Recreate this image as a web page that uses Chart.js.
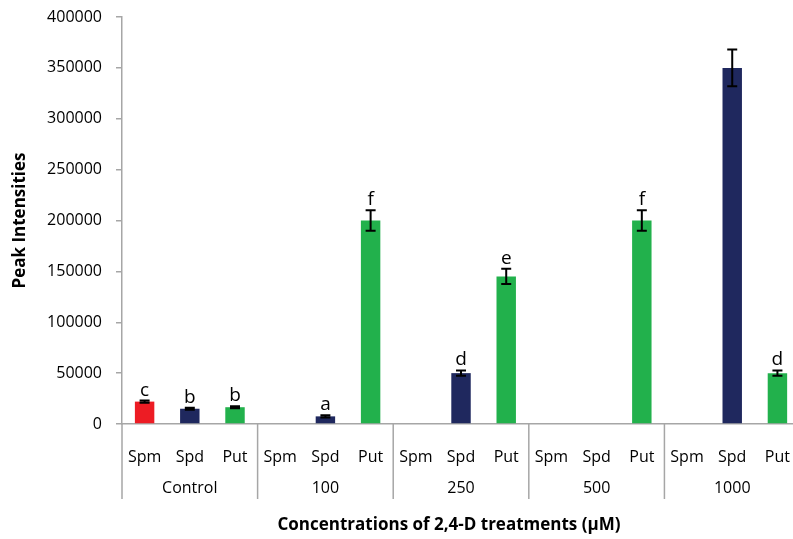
<!DOCTYPE html>
<html>
<head>
<meta charset="utf-8">
<script src="https://cdn.jsdelivr.net/npm/chart.js@4.4.1/dist/chart.umd.min.js"></script>
<style>
body { margin: 0; overflow: hidden; background: #fff; }
#wrap { width: 806px; height: 539px; position: relative; }
</style>
</head>
<body>
<div id="wrap"><canvas id="myChart"></canvas></div>
<script>
const ctx = document.getElementById('myChart');

const polyamines = ['Spm', 'Spd', 'Put']
const treatments = ['Control', '100', '250', '500', '1000']
const peakValues = [22000, 15000, 16500, null, 7500, 200000, null, 50000, 145000, null, null, 200000, null, 350000, 50000]
const errValues = [1000, 1000, 1000, 0, 1000, 10000, 0, 2500, 7500, 0, 0, 10000, 0, 18000, 2500]
const letters = ['c', 'b', 'b', '', 'a', 'f', '', 'd', 'e', '', '', 'f', '', '', 'd']
const yTicks = [0, 50000, 100000, 150000, 200000, 250000, 300000, 350000, 400000]

const labels = []
treatments.forEach(t => polyamines.forEach(p => labels.push(p)))

const colorOf = {Spm: '#ed1c24', Spd: '#1f285e', Put: '#22b14c'}
const barColors = labels.map(l => colorOf[l])

const font = "'Open Sans', sans-serif"

const extras = {
  id: 'extras',
  afterDatasetsDraw(chart) {
    const c = chart.ctx
    const x = chart.scales.x
    const y = chart.scales.y
    c.save()
    // error bars + letters
    peakValues.forEach((v, i) => {
      if (v === null) return
      const px = x.getPixelForValue(i)
      const e = errValues[i]
      const top = y.getPixelForValue(v + e)
      const bot = y.getPixelForValue(v - e)
      c.strokeStyle = '#000'
      c.lineWidth = 2
      c.beginPath()
      c.moveTo(px, top); c.lineTo(px, bot)
      c.moveTo(px - 5, top); c.lineTo(px + 5, top)
      c.moveTo(px - 5, bot); c.lineTo(px + 5, bot)
      c.stroke()
      if (letters[i]) {
        c.fillStyle = '#000'
        c.font = '19px ' + font
        c.textAlign = 'center'
        c.textBaseline = 'bottom'
        c.fillText(letters[i], px, top - 1)
      }
    })
    // group separators and labels
    const step = x.getPixelForValue(1) - x.getPixelForValue(0)
    c.strokeStyle = '#a6a6a6'
    c.lineWidth = 1.5
    for (let g = 0; g <= treatments.length; g++) {
      const gx = x.getPixelForValue(g * 3) - step / 2
      c.beginPath()
      c.moveTo(gx, y.bottom); c.lineTo(gx, 499)
      c.stroke()
    }
    c.fillStyle = '#000'
    c.font = '16px ' + font
    c.textAlign = 'center'
    c.textBaseline = 'middle'
    treatments.forEach((t, g) => {
      c.fillText(t, x.getPixelForValue(g * 3 + 1), 488)
    })
    c.font = 'bold 17px ' + font
    c.fillText('Concentrations of 2,4-D treatments (µM)', 449, 525)
    c.restore()
  }
}

let chart_1 = new Chart(ctx, {
  type: 'bar',
  data: {
    labels: labels,
    datasets: [{
      label: 'Peak Intensities',
      data: peakValues,
      backgroundColor: barColors,
      borderWidth: 0,
      barPercentage: 0.43,
      categoryPercentage: 1
    }]
  },
  options: {
    responsive: true,
    maintainAspectRatio: false,
    animation: false,
    layout: { padding: { top: 17, left: 0, right: 0, bottom: 0 } },
    plugins: { legend: { display: false }, tooltip: { enabled: false } },
    scales: {
      x: {
        grid: { display: false },
        border: { color: '#a6a6a6', width: 1.5 },
        ticks: { color: '#000', padding: 16, font: { family: font, size: 16 }, maxRotation: 0, autoSkip: false },
        afterFit(scale) { scale.height = 115 }
      },
      y: {
        min: 0,
        max: 400000,
        afterBuildTicks(scale) { scale.ticks = yTicks.map(v => ({ value: v })) },
        grid: { drawOnChartArea: false, drawTicks: true, tickLength: 6, color: '#a6a6a6', lineWidth: 1.5 },
        border: { color: '#a6a6a6', width: 1.5 },
        ticks: { color: '#000', padding: 14, font: { family: font, size: 16 }, callback: v => String(v) },
        title: { display: true, text: 'Peak Intensities', color: '#000', font: { family: font, size: 17, weight: 'bold' }, padding: { top: 10, bottom: 0 } },
        afterFit(scale) {
          scale.width = 122
          scale.paddingTop = 0
          scale.paddingBottom = 0
        }
      }
    }
  },
  plugins: [extras]
});
</script>
</body>
</html>
